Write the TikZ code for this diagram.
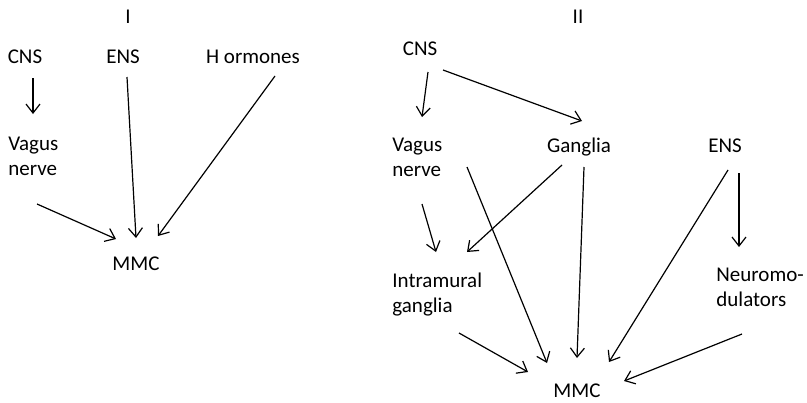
\documentclass[tikz,border=0pt]{standalone}
\usepackage{fontspec}
\setmainfont{Carlito}
\usetikzlibrary{arrows.meta,calc}
\begin{document}
\begin{tikzpicture}[x=0.5pt, y=-0.5pt,
                    lbl/.style = {inner sep=0pt,
                                  anchor=base,
                                  font=\fontsize{10.5}{12.5}\selectfont},
                    blk/.style = {lbl,
                                  align=left,
                                  anchor=north west},
                    arr/.style = {-{Straight Barb[length=4.5pt,width=7pt]},
                                  line width=0.6pt}]
		\useasboundingbox (0,0) rectangle (807,402);
		% I
		\node[lbl] (titleI) at (128,23) {I};
		\node[lbl] (cnsI) at (25,63) {CNS};
		\node[lbl] (ensI) at (123,63) {ENS};
		\node[lbl] (hormI) at (253,63) {H ormones};
		\node[blk] (vagusI) at (8,137) {Vagus\\nerve};
		\node[lbl] (mmcI) at (136,270) {MMC};
		\draw[arr] ($(cnsI.base)+(8,15)$) -- ($(vagusI.north west)+(25,-23)$);
		\draw[arr] ($(vagusI.north west)+(29,67)$) -- ($(mmcI.base)+(-20,-31)$);
		\draw[arr] ($(ensI.base)+(4,14)$) -- ($(mmcI.base)+(0,-32)$);
		\draw[arr] ($(hormI.base)+(22,13)$) -- ($(mmcI.base)+(22,-34)$);
		% II
		\node[lbl] (titleII) at (578,23) {II};
		\node[lbl] (cnsII) at (420,55) {CNS};
		\node[blk] (vagusII) at (392,138) {Vagus\\nerve};
		\node[lbl] (gangII) at (579,152) {Ganglia};
		\node[lbl] (ensII) at (725,152) {ENS};
		\node[blk] (intraII) at (392,273) {Intramural\\ganglia};
		\node[blk] (neuroII) at (716,268) {Neuromo-\\dulators};
		\node[lbl] (mmcII) at (577,397) {MMC};
		\draw[arr] ($(cnsII.base)+(8,17)$) -- ($(vagusII.north west)+(30,-21)$);
		\draw[arr] ($(cnsII.base)+(23,15)$) -- ($(gangII.base)+(3,-31)$);
		\draw[arr] ($(vagusII.north west)+(30,66)$) -- ($(intraII.north west)+(44,-21)$);
		\draw[arr] ($(vagusII.north west)+(75,29)$) -- ($(mmcII.base)+(-30,-34)$);
		\draw[arr] ($(gangII.base)+(-17,13)$) -- ($(intraII.north west)+(75,-21)$);
		\draw[arr] ($(gangII.base)+(5,15)$) -- ($(mmcII.base)+(0,-39)$);
		\draw[arr] ($(ensII.base)+(3,18)$) -- ($(mmcII.base)+(32,-35)$);
		\draw[arr] ($(ensII.base)+(14,21)$) -- ($(neuroII.north west)+(23,-21)$);
		\draw[arr] ($(intraII.north west)+(67,60)$) -- ($(mmcII.base)+(-49,-25)$);
		\draw[arr] ($(neuroII.north west)+(26,66)$) -- ($(mmcII.base)+(47,-16)$);
	\end{tikzpicture}
\end{document}
